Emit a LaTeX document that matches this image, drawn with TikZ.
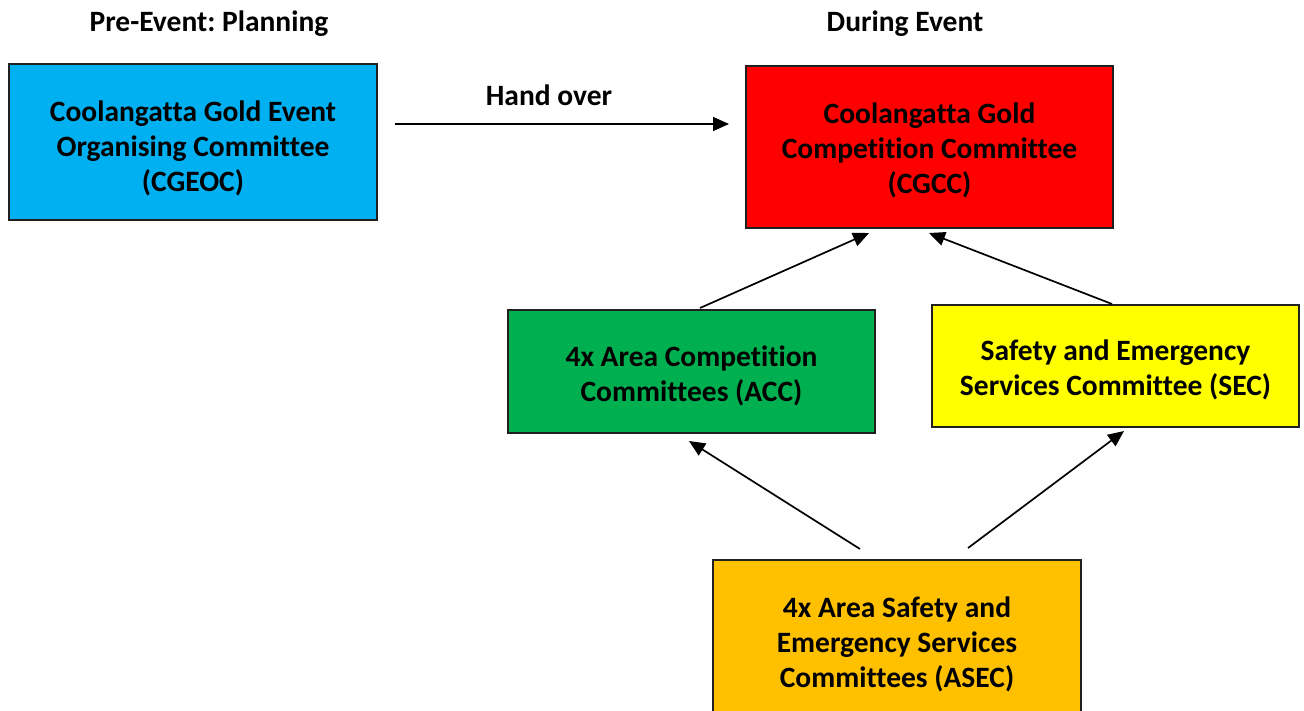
\documentclass[tikz,border=0pt]{standalone}
\usepackage{fontspec}
\setmainfont{Carlito}[Ligatures=CommonOff]
\frenchspacing
\usetikzlibrary{arrows.meta}
\definecolor{cblue}{HTML}{00B0F0}
\definecolor{cred}{HTML}{FF0000}
\definecolor{cgreen}{HTML}{00B050}
\definecolor{cyellow}{HTML}{FFFF00}
\definecolor{corange}{HTML}{FFC000}
\definecolor{cborder}{HTML}{202020}
\tikzset{
  box/.style={draw=cborder, line width=1.6pt, inner sep=0pt},
  boxtext/.style={align=center, inner sep=0pt,
    font=\fontsize{29.5}{35}\selectfont\bfseries, text=black},
  title/.style={font=\fontsize{29.5}{35}\selectfont\bfseries, text=black, inner sep=0pt},
  conn/.style={line width=1.7pt, -{Triangle[length=16pt,width=14pt]}}
}
\begin{document}
\begin{tikzpicture}[x=1pt,y=-1pt]
\useasboundingbox[fill=white] (0,0) rectangle (1304,710);
\node[title] (t1) at (209,24) {Pre-Event: Planning};
\node[title] (t2) at (905,24) {During Event};
\node[box, fill=cblue, minimum width=368pt, minimum height=156pt] (cgeoc) at (193,142) {};
\node[boxtext] (cgeoct) at ([yshift=-6pt]cgeoc.center)
  {Coolangatta Gold Event\\Organising Committee\\(CGEOC)};
\node[box, fill=cred, minimum width=367pt, minimum height=162pt] (cgcc) at (929.5,147) {};
\node[boxtext] (cgcct) at ([yshift=-3pt]cgcc.center)
  {Coolangatta Gold\\Competition Committee\\(CGCC)};
\node[box, fill=cgreen, minimum width=367pt, minimum height=123pt] (acc) at (691.5,371.5) {};
\node[boxtext] (acct) at ([yshift=-4pt]acc.center)
  {4x Area Competition\\Committees (ACC)};
\node[box, fill=cyellow, minimum width=367pt, minimum height=122pt] (sec) at (1115.5,366) {};
\node[boxtext] (sect) at ([yshift=-4pt]sec.center)
  {Safety and Emergency\\Services Committee (SEC)};
\node[box, fill=corange, minimum width=368pt, minimum height=164pt] (asec) at (897,642) {};
\node[boxtext] (asect) at ([yshift=-2pt]asec.center)
  {4x Area Safety and\\Emergency Services\\Committees (ASEC)};
\node[title] (ho) at (549,95) {Hand over};
\coordinate (h1) at (395,124);
\coordinate (h2) at (729,124);
\coordinate (a1) at (700,308);
\coordinate (a2) at (869,233);
\coordinate (s1) at (1112,304);
\coordinate (s2) at (929,233);
\coordinate (o1) at (860,549);
\coordinate (o2) at (689,441);
\coordinate (o3) at (968,548);
\coordinate (o4) at (1124,431);
\draw[conn] (h1) -- (h2);
\draw[conn] (a1) -- (a2);
\draw[conn] (s1) -- (s2);
\draw[conn] (o1) -- (o2);
\draw[conn] (o3) -- (o4);
\end{tikzpicture}
\end{document}
